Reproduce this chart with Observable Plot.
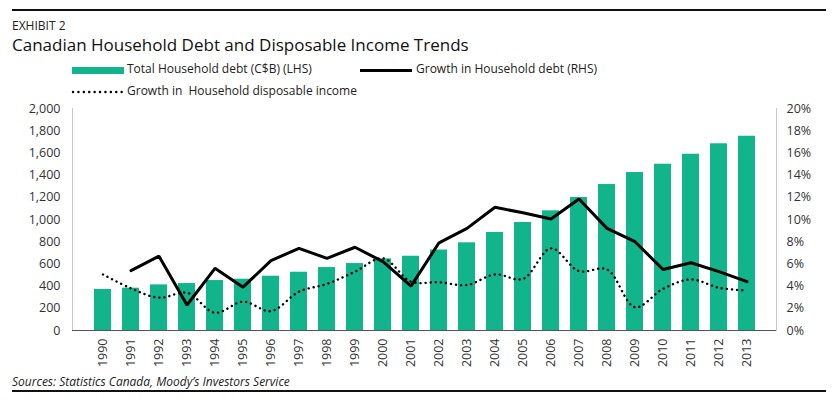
<!DOCTYPE html>
<html><head><meta charset="utf-8">
<script src="https://cdn.jsdelivr.net/npm/d3@7"></script>
<script src="https://cdn.jsdelivr.net/npm/@observablehq/plot@0.6"></script>
<style>
body{margin:0;background:#fff;font-family:"Open Sans",sans-serif;color:#222;}
#wrap{position:relative;width:836px;height:403px;overflow:hidden;}
.rule{position:absolute;left:12px;width:814px;height:2px;background:#111;}
.t{position:absolute;white-space:nowrap;line-height:1.15;}
#chart{position:absolute;left:0;top:100px;}
</style></head>
<body><div id="wrap">
<div class="rule" style="top:9px"></div>
<div class="t" style="left:12px;top:19px;font-size:12px;">EXHIBIT 2</div>
<div class="t" style="left:12px;top:35px;font-size:17px;color:#111;">Canadian Household Debt and Disposable Income Trends</div>
<div style="position:absolute;left:72px;top:67px;width:52px;height:7px;background:#12b48b;"></div>
<div class="t" style="left:127px;top:62px;font-size:12px;">Total Household debt (C$B) (LHS)</div>
<div style="position:absolute;left:360px;top:69px;width:52px;height:3px;background:#000;"></div>
<div class="t" style="left:416px;top:62px;font-size:12px;">Growth in Household debt (RHS)</div>
<svg style="position:absolute;left:70px;top:88px" width="56" height="8"><line x1="3" y1="4" x2="52" y2="4" stroke="#000" stroke-width="2.4" stroke-dasharray="0.1,5.3" stroke-linecap="round"/></svg>
<div class="t" style="left:127px;top:84px;font-size:12px;">Growth in&nbsp; Household disposable income</div>
<div id="chart"></div>
<div class="t" style="left:12px;top:375px;font-size:12px;font-style:italic;">Sources: Statistics Canada, Moody’s Investors Service</div>
<div class="rule" style="top:390px;height:1.5px"></div>
</div>
<script>
const years = [1990,1991,1992,1993,1994,1995,1996,1997,1998,1999,2000,2001,2002,2003,2004,2005,2006,2007,2008,2009,2010,2011,2012,2013];
const householdDebt = [370,381,411,423,450,462,489,525,567,603,645,669,725,790,883,973,1078,1198,1315,1423,1498,1588,1682,1750];
const debtGrowth = [null,5.4,6.7,2.3,5.6,3.9,6.3,7.4,6.5,7.5,6.2,4.0,7.9,9.2,11.1,10.6,10.05,11.85,9.2,8.0,5.5,6.1,5.3,4.4];
const incomeGrowth = [5.05,3.8,2.95,3.4,1.6,2.6,1.75,3.5,4.2,5.3,6.5,4.4,4.35,4.1,5.05,4.65,7.4,5.35,5.5,2.1,3.75,4.6,3.85,3.6];
const leftTicks = [0,200,400,600,800,1000,1200,1400,1600,1800,2000];
const rightTicks = [0,2,4,6,8,10,12,14,16,18,20];

const rows = years.map((y,i)=>({year:String(y), debt:householdDebt[i], dg:debtGrowth[i]==null?null:debtGrowth[i]*100, ig:incomeGrowth[i]*100}));
const dgRows = rows.filter(d=>d.dg!=null);

const chart = Plot.plot({
  width:836, height:270,
  marginTop:8, marginBottom:40, marginLeft:72, marginRight:60,
  style:{fontFamily:"Open Sans, sans-serif", fontSize:"12.5px", color:"#333", background:"transparent"},
  x:{type:"band", domain:years.map(String), padding:0.4, label:null},
  y:{domain:[0,2000], label:null},
  marks:[
    Plot.barY(rows,{x:"year", y:"debt", fill:"#12b48b"}),
    Plot.frame({anchor:"left", stroke:"#c8c8c8"}),
    Plot.frame({anchor:"right", stroke:"#c8c8c8"}),
    Plot.axisY({anchor:"left", ticks:leftTicks, tickFormat:d3.format(","), tickSize:0, tickPadding:12, label:null, fill:"#333"}),
    Plot.axisY({anchor:"right", ticks:rightTicks.map(v=>v*100), tickFormat:d=>(d/100)+"%", tickSize:0, tickPadding:10, label:null, fill:"#333"}),
    Plot.axisX({tickRotate:-90, tickSize:0, tickPadding:8, label:null, fill:"#333"}),
    Plot.ruleY([0],{stroke:"#555", strokeWidth:1.2}),
    Plot.lineY(rows,{x:"year", y:"ig", stroke:"#000", strokeWidth:2.4, strokeDasharray:"0.1,5", strokeLinecap:"round", curve:"catmull-rom"}),
    Plot.lineY(dgRows,{x:"year", y:"dg", stroke:"#000", strokeWidth:3, strokeLinejoin:"miter"})
  ]
});
document.getElementById("chart").append(chart);
</script>
</body></html>
